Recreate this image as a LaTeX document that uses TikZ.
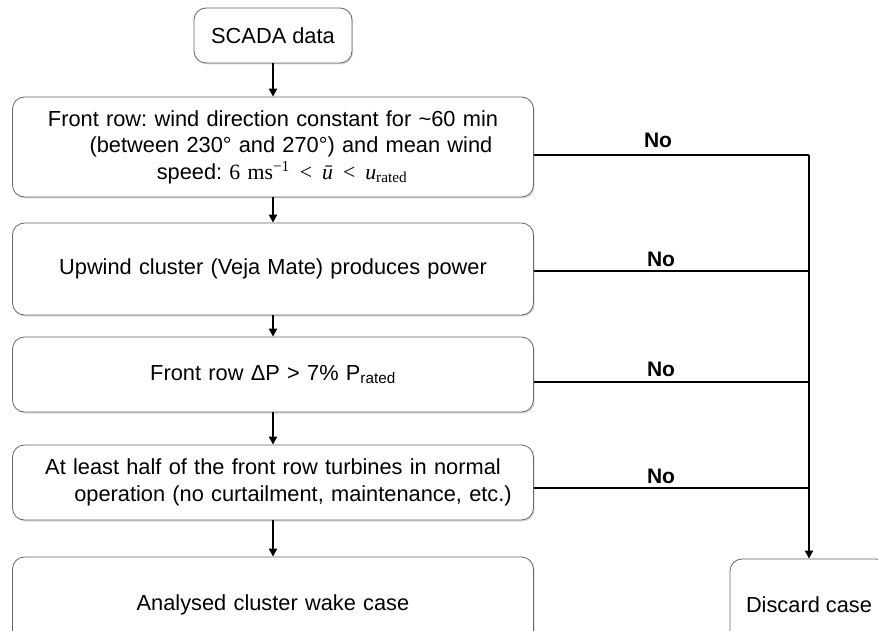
\documentclass[tikz,border=0pt]{standalone}
\usepackage{fontspec}
\setmainfont{Liberation Sans}
\newfontfamily\mathserif{Liberation Serif}
\usepackage{tikz}
\usetikzlibrary{arrows.meta,shadows}
\tikzset{>={Triangle[length=8pt,width=8pt]}}
\tikzset{
  stepbox/.style={draw=black!60, line width=0.8pt, rounded corners=12pt, fill=white,
    drop shadow={shadow xshift=1.2pt, shadow yshift=-1.5pt, opacity=0.3},
    align=center, font=\fontsize{21.8}{26.5}\selectfont},
  widebox/.style={stepbox, text width=500pt, inner xsep=10.5pt, inner ysep=0pt},
  flow/.style={->, line width=2.4pt},
  rule/.style={line width=2.4pt},
  nolabel/.style={font=\fontsize{21}{24}\selectfont\bfseries}
}
\newcommand{\rel}{\hspace{10pt}<\hspace{10pt}}
\frenchspacing

\begin{document}
\begin{tikzpicture}[x=1pt,y=-1pt]
    \useasboundingbox (0,0) rectangle (878,631);

    \node[stepbox, minimum width=158pt, minimum height=55pt] (scada) at (273,35.5) {SCADA data};

    \node[widebox, minimum height=100pt] (front) at (273,147)
        {Front row: wind direction constant for \textasciitilde60 min\\
         \hspace*{36pt}(between 230° and 270°) and mean wind\\
         \hspace*{18pt}speed: {\mathserif 6 ms\textsuperscript{−1}\rel\textit{ū}\rel\textit{u}\textsubscript{rated}}};
    \node[widebox, minimum height=92pt] (upwind) at (273,269) {Upwind cluster (Veja Mate) produces power};
    \node[widebox, minimum height=75pt] (deltap) at (273,374.5) {Front row ΔP > 7\% P\textsubscript{rated}};
    \node[widebox, minimum height=75pt] (normal) at (273,482.5)
        {At least half of the front row turbines in normal\\
         \hspace*{40pt}operation (no curtailment, maintenance, etc.)};
    \node[widebox, minimum height=96pt] (analysed) at (273,605) {Analysed cluster wake case};
    \node[stepbox, minimum width=158pt, minimum height=92pt] (discard) at (809,605) {Discard case};

    % main flow
    \draw[flow] (scada) -- (front);
    \draw[flow] (front) -- (upwind);
    \draw[flow] (upwind) -- (deltap);
    \draw[flow] (deltap) -- (normal);
    \draw[flow] (normal) -- (analysed);

    % rejection branch
    \coordinate (j1) at (809,155);
    \coordinate (j2) at (809,271);
    \coordinate (j3) at (809,382);
    \coordinate (j4) at (809,488);
    \draw[rule] ([yshift=-8pt]front.east) -- (j1);
    \draw[rule] ([yshift=-2pt]upwind.east) -- (j2);
    \draw[rule] ([yshift=-7.5pt]deltap.east) -- (j3);
    \draw[rule] ([yshift=-5.5pt]normal.east) -- (j4);
    \draw[flow] (j1) -- (discard);

    \node[nolabel] (no1) at (658,140) {No};
    \node[nolabel] (no2) at (661,259) {No};
    \node[nolabel] (no3) at (661,369) {No};
    \node[nolabel] (no4) at (661,476) {No};
\end{tikzpicture}
\end{document}
